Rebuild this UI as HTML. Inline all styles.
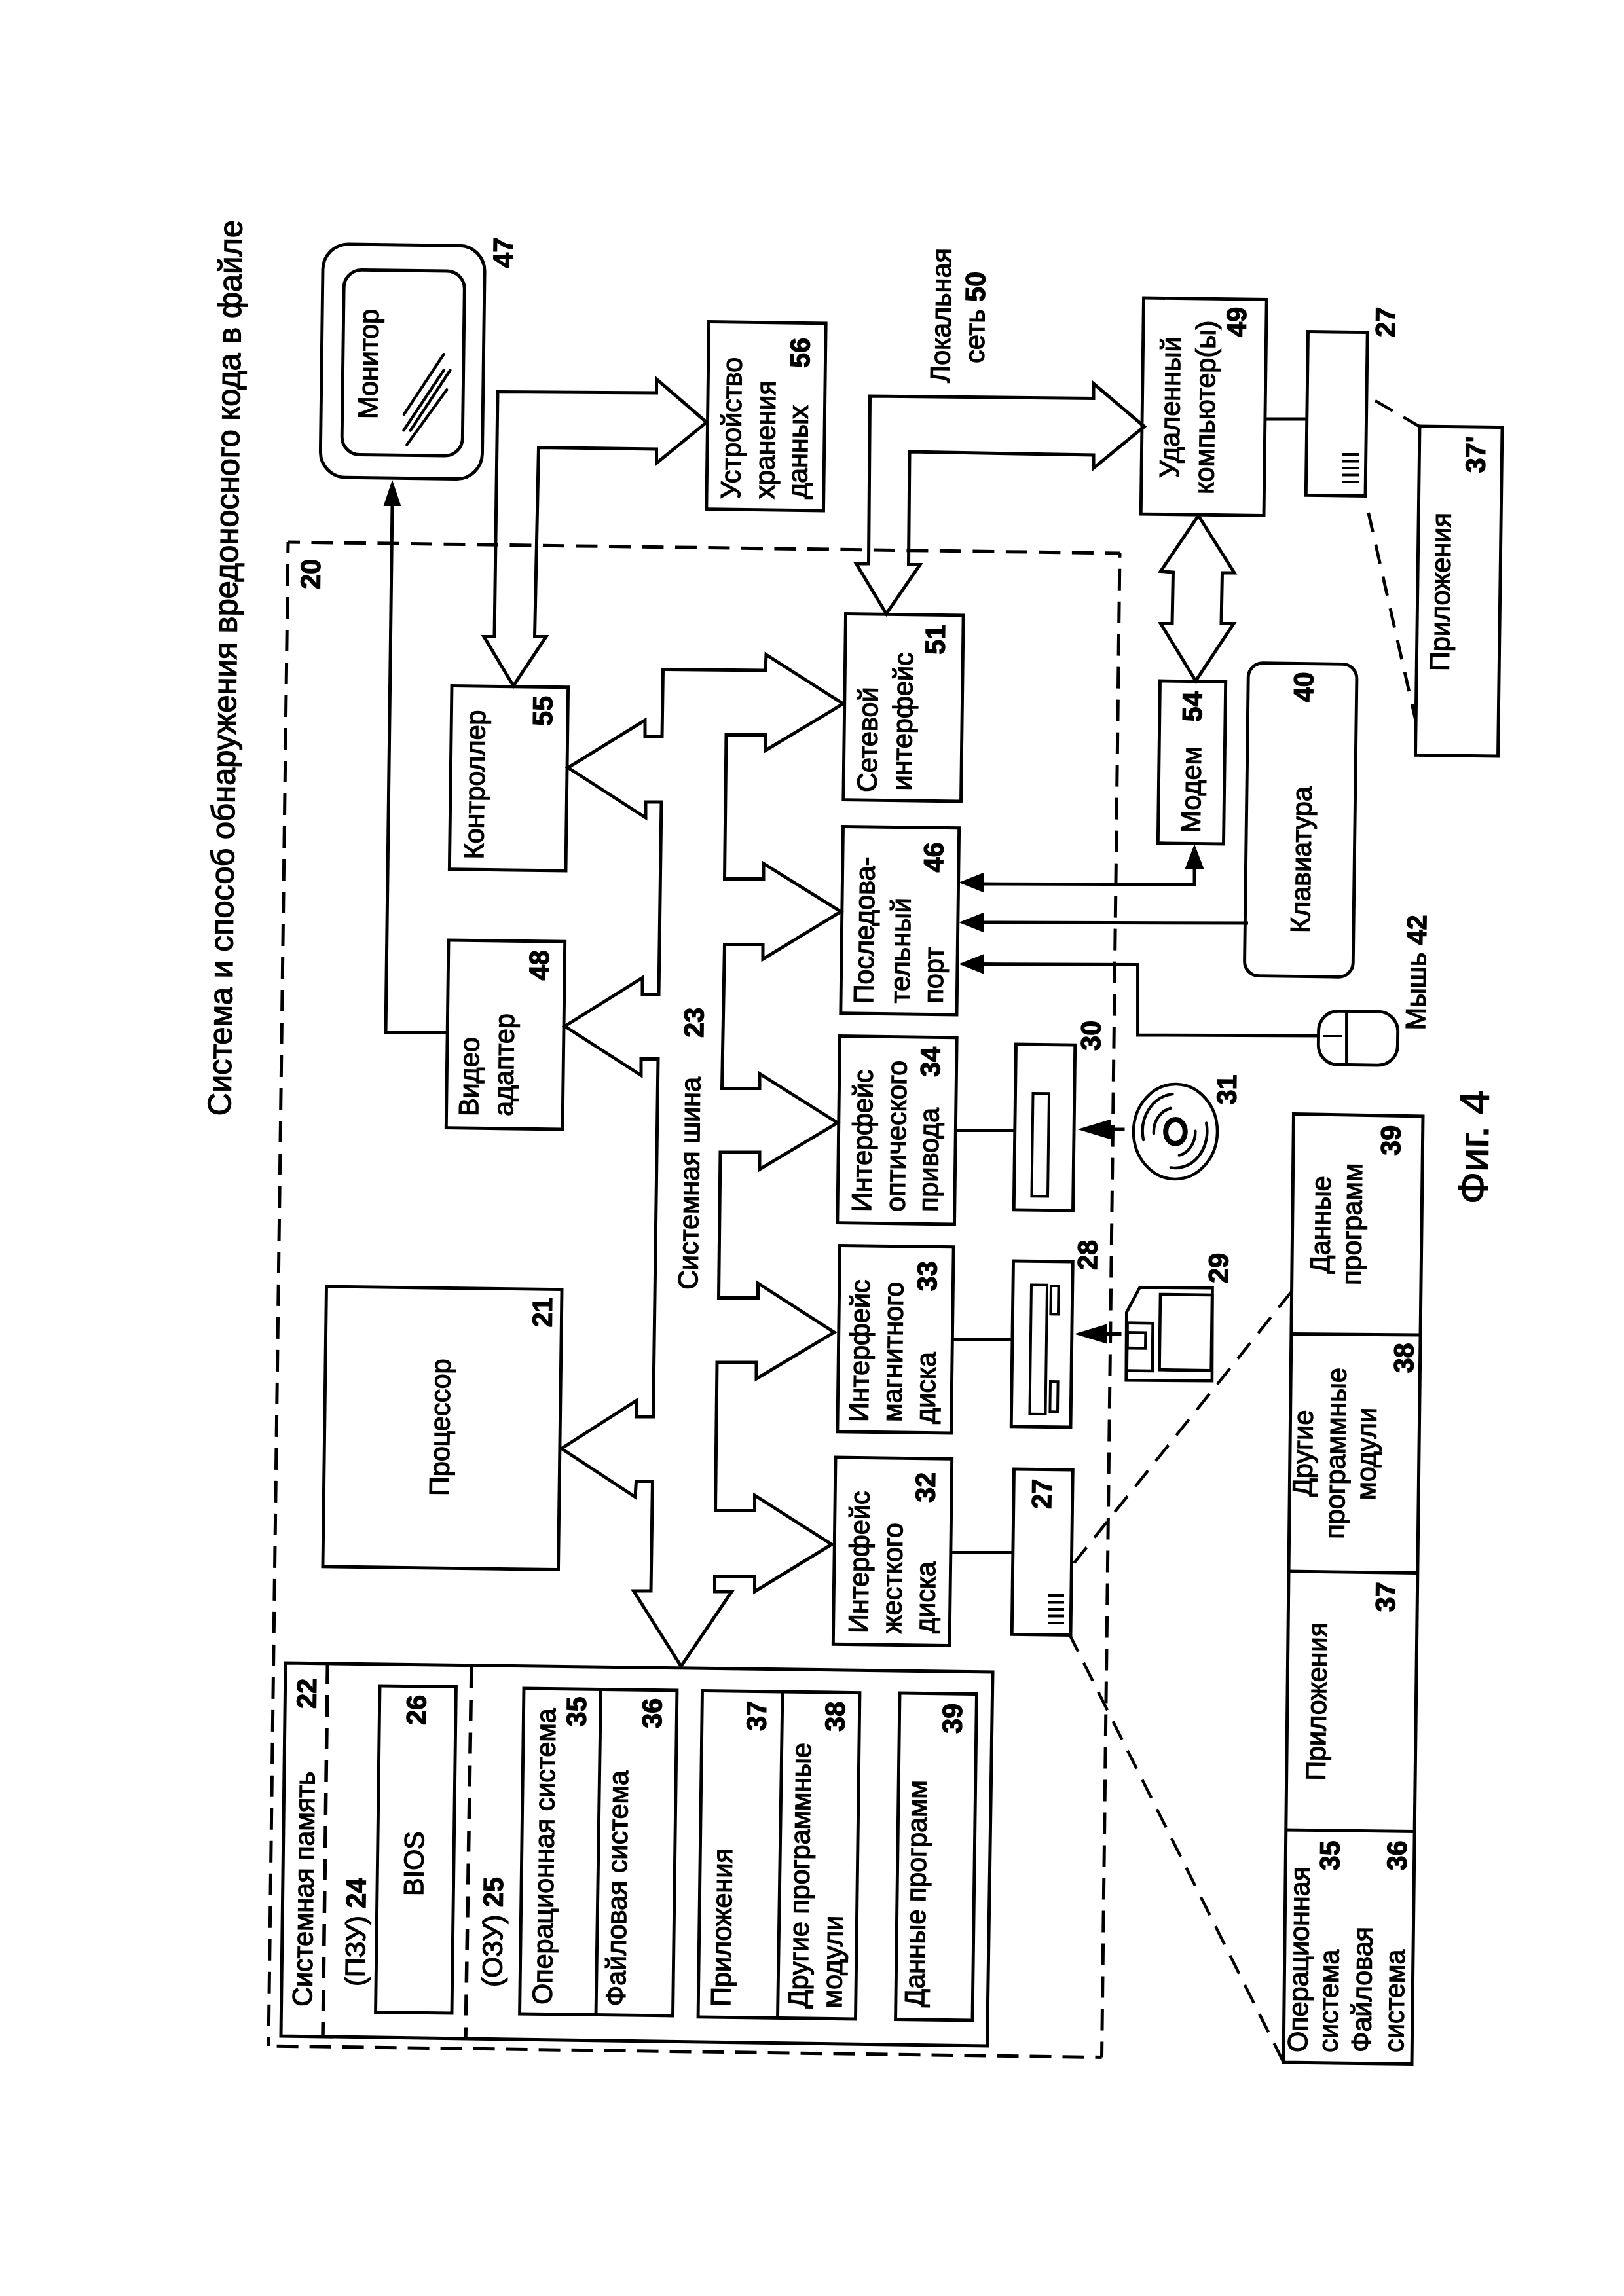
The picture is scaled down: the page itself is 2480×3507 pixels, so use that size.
<!DOCTYPE html>
<html><head><meta charset="utf-8"><style>
html,body{margin:0;padding:0;background:#fff;}
svg{display:block;will-change:transform;}
text{font-family:"Liberation Sans",sans-serif;fill:#000;stroke:#000;stroke-width:1.3;}
</style></head><body>
<svg width="2480" height="3507" viewBox="0 0 2480 3507">
<rect x="0" y="0" width="2480" height="3507" fill="#fff"/>
<g transform="rotate(0.74 1240 1753)" fill="none" stroke="#000" stroke-linejoin="miter" stroke-linecap="butt">
<text transform="translate(351.45 1715.97) rotate(-90) scale(1 1.02)" font-size="48.8">Система и способ обнаружения вредоносного кода в файле</text>
<rect x="475.73" y="382.26" width="247.12" height="356.34" rx="39" stroke-width="4.9"/>
<rect x="508.24" y="421.34" width="184.16" height="282.15" rx="27" stroke-width="4.9"/>
<text transform="translate(561.68 648.67) rotate(-90) scale(1 1.02)" font-size="41.3">Монитор</text>
<line x1="662" y1="548.56" x2="602.49" y2="641.04" stroke-width="4.4" stroke-linecap="round"/>
<line x1="662.31" y1="572.86" x2="602.4" y2="665.34" stroke-width="4.4" stroke-linecap="round"/>
<line x1="672.11" y1="572.74" x2="612.6" y2="665.61" stroke-width="4.4" stroke-linecap="round"/>
<line x1="667.39" y1="602.6" x2="607.39" y2="687.58" stroke-width="4.4" stroke-linecap="round"/>
<text transform="translate(765.18 415.02) rotate(-90) scale(1 1.02)" font-size="41.3" font-weight="bold">47</text>
<polyline points="681.78,1584.7 586.79,1585.92 586.36,778.36" stroke-width="5"/>
<polygon points="585.92,744.36 574.38,780.52 598.38,780.21" fill="#000" stroke="#000" stroke-width="2"/>
<rect x="1066.22" y="493.64" width="178.71" height="286.22" stroke-width="4.9"/>
<text transform="translate(1117.21 763.5) rotate(-90) scale(1 1.02)" font-size="41.3">Устройство</text>
<text transform="translate(1169.21 762.83) rotate(-90) scale(1 1.02)" font-size="41.3">хранения</text>
<text transform="translate(1219.2 762.19) rotate(-90) scale(1 1.02)" font-size="41.3">данных</text>
<text transform="translate(1220.62 562.15) rotate(-90) scale(1 1.02)" font-size="41.3" font-weight="bold">56</text>
<polygon points="774.93,1053.45 728.96,979.04 744.96,978.83 745.13,604.8 987.63,603.16 987.36,582.17 1064.7,647.17 989.02,710.65 988.74,689.16 808.72,688.98 806.46,978.03 823.95,977.81" stroke-width="5"/>
<rect x="680.93" y="1054.66" width="177.63" height="280.23" stroke-width="4.9"/>
<text transform="translate(732.35 1319.02) rotate(-90) scale(1 1.02)" font-size="41.3">Контроллер</text>
<text transform="translate(834.72 1114.18) rotate(-90) scale(1 1.02)" font-size="41.3" font-weight="bold">55</text>
<rect x="680.95" y="1443.19" width="177.72" height="286.73" stroke-width="4.9"/>
<text transform="translate(729.42 1711.59) rotate(-90) scale(1 1.02)" font-size="41.3">Видео</text>
<text transform="translate(782.42 1710.91) rotate(-90) scale(1 1.02)" font-size="41.3">адаптер</text>
<text transform="translate(834.23 1502.72) rotate(-90) scale(1 1.02)" font-size="41.3" font-weight="bold">48</text>
<rect x="501.3" y="1974.56" width="359.56" height="427.89" stroke-width="4.9"/>
<text transform="translate(691.92 2292.12) rotate(-90) scale(1 1.02)" font-size="41.3">Процессор</text>
<text transform="translate(846.08 2032.61) rotate(-90) scale(1 1.02)" font-size="41.3" font-weight="bold">21</text>
<polygon points="1003.08,1025.5 1159.59,1024.98 1160.28,1000.97 1278.74,1074.44 1160.67,1147.47 1160.36,1123.48 1100.87,1124.24 1101.21,1344.26 1160.7,1343.49 1160.4,1319.99 1279.34,1391.96 1161.29,1465.99 1161,1443.49 1102.5,1444.25 1101.34,1664.28 1158.84,1663.54 1158.55,1641.04 1278.51,1714.5 1160.43,1787.03 1160.1,1761.03 1100.1,1761.81 1100.48,1984.32 1160.47,1983.55 1160.18,1961.05 1277.64,2034.54 1159.57,2107.07 1159.24,2082.07 1099.25,2082.85 1099.67,2309.36 1159.67,2308.58 1159.37,2285.09 1277.82,2358.56 1161.26,2432.07 1160.96,2408.58 1099.97,2409.36 1100.27,2432.86 1126.27,2432.53 1050.25,2547.52 976.27,2433.46 1002.76,2433.12 1003.1,2265.6 978.1,2265.93 976.91,2289.94 863.47,2217.4 977.51,2142.42 976.83,2167.43 1002.83,2167.1 1003.27,1620.55 977.27,1620.88 977.59,1645.88 860.14,1572.39 977.67,1496.87 977.99,1521.86 1002.99,1521.54 1003.2,1228.01 979.2,1228.32 979.51,1252.32 860.03,1177.36 976.59,1103.35 976.91,1128.35 1002.91,1128.01" stroke-width="5"/>
<text transform="translate(1067.82 1972.24) rotate(-90) scale(1 1.02)" font-size="41.3">Системная шина</text>
<text transform="translate(1071.84 1587.16) rotate(-90) scale(1 1.02)" font-size="41.3" font-weight="bold">23</text>
<rect x="1280.96" y="936.9" width="179.69" height="284.2" stroke-width="4.9"/>
<text transform="translate(1331.48 1208.77) rotate(-90) scale(1 1.02)" font-size="41.3">Сетевой</text>
<text transform="translate(1384.44 1205.59) rotate(-90) scale(1 1.02)" font-size="41.3">интерфейс</text>
<text transform="translate(1432.76 997.45) rotate(-90) scale(1 1.02)" font-size="41.3" font-weight="bold">51</text>
<rect x="1281.16" y="1261.93" width="177.2" height="285.24" stroke-width="4.9"/>
<text transform="translate(1330.16 1532.32) rotate(-90) scale(1 1.02)" font-size="41.3">Последова-</text>
<text transform="translate(1385.64 1530.6) rotate(-90) scale(1 1.02)" font-size="41.3">тельный</text>
<text transform="translate(1436.64 1529.94) rotate(-90) scale(1 1.02)" font-size="41.3">порт</text>
<text transform="translate(1434.55 1329.95) rotate(-90) scale(1 1.02)" font-size="41.3" font-weight="bold">46</text>
<rect x="1280.29" y="1581.97" width="178.7" height="285.22" stroke-width="4.9"/>
<text transform="translate(1331.26 1849.83) rotate(-90) scale(1 1.02)" font-size="41.3">Интерфейс</text>
<text transform="translate(1382.75 1849.16) rotate(-90) scale(1 1.02)" font-size="41.3">оптического</text>
<text transform="translate(1432.75 1848.52) rotate(-90) scale(1 1.02)" font-size="41.3">привода</text>
<text transform="translate(1433.59 1642.49) rotate(-90) scale(1 1.02)" font-size="41.3" font-weight="bold">34</text>
<rect x="1284.43" y="1901.94" width="173.69" height="284.28" stroke-width="4.9"/>
<text transform="translate(1330.9 2170.86) rotate(-90) scale(1 1.02)" font-size="41.3">Интерфейс</text>
<text transform="translate(1381.9 2170.2) rotate(-90) scale(1 1.02)" font-size="41.3">магнитного</text>
<text transform="translate(1432.93 2172.54) rotate(-90) scale(1 1.02)" font-size="41.3">диска</text>
<text transform="translate(1432.82 1970.03) rotate(-90) scale(1 1.02)" font-size="41.3" font-weight="bold">33</text>
<rect x="1282.11" y="2225.5" width="177.7" height="285.23" stroke-width="4.9"/>
<text transform="translate(1334.58 2493.84) rotate(-90) scale(1 1.02)" font-size="41.3">Интерфейс</text>
<text transform="translate(1385.57 2493.18) rotate(-90) scale(1 1.02)" font-size="41.3">жесткого</text>
<text transform="translate(1436.57 2492.52) rotate(-90) scale(1 1.02)" font-size="41.3">диска</text>
<text transform="translate(1434.48 2292.53) rotate(-90) scale(1 1.02)" font-size="41.3" font-weight="bold">32</text>
<line x1="1459.64" y1="1723.66" x2="1550.63" y2="1722.49" stroke-width="4.9"/>
<rect x="1549.43" y="1590.99" width="90.27" height="252.86" stroke-width="4.9"/>
<rect x="1576.4" y="1665.65" width="24.53" height="157.2" stroke-width="4"/>
<text transform="translate(1678.05 1599.33) rotate(-90) scale(1 1.02)" font-size="41.3" font-weight="bold">30</text>
<line x1="1458.77" y1="2043.7" x2="1550.76" y2="2042.51" stroke-width="4.9"/>
<rect x="1549.71" y="1922.01" width="90.77" height="252.85" stroke-width="4.9"/>
<rect x="1577.68" y="1958.16" width="24.05" height="197.21" stroke-width="4"/>
<rect x="1607.69" y="1959.27" width="11.56" height="43.35" stroke-width="4"/>
<rect x="1608.58" y="2105.27" width="11.6" height="46.35" stroke-width="4"/>
<text transform="translate(1677.38 1934.37) rotate(-90) scale(1 1.02)" font-size="41.3" font-weight="bold">28</text>
<line x1="1460.47" y1="2368.7" x2="1555.96" y2="2367.47" stroke-width="4.9"/>
<rect x="1554.82" y="2239.97" width="89.77" height="252.36" stroke-width="4.9"/>
<line x1="1608.8" y1="2432.29" x2="1633.8" y2="2431.97" stroke-width="4"/>
<line x1="1608.94" y1="2442.79" x2="1633.94" y2="2442.47" stroke-width="4"/>
<line x1="1609.08" y1="2453.29" x2="1634.07" y2="2452.97" stroke-width="4"/>
<line x1="1609.21" y1="2463.79" x2="1634.21" y2="2463.47" stroke-width="4"/>
<line x1="1609.35" y1="2474.29" x2="1634.34" y2="2473.97" stroke-width="4"/>
<text transform="translate(1612.1 2300.24) rotate(-90) scale(1 1.02)" font-size="41.3" font-weight="bold">27</text>
<ellipse cx="1794.64" cy="1721.33" rx="64" ry="72.5" stroke-width="4.5"/>
<ellipse cx="1794.64" cy="1721.33" rx="14.8" ry="18.4" stroke-width="8"/>
<path d="M1789.3 1664 A50 57 0 0 0 1745.9 1734.56" stroke-width="4.4" stroke-linecap="round"/>
<path d="M1786.68 1685.73 A33 37 0 0 0 1761.57 1724.46" stroke-width="4.4" stroke-linecap="round"/>
<path d="M1841.66 1707.63 A48 56 0 0 1 1788.35 1776.32" stroke-width="4.4" stroke-linecap="round"/>
<path d="M1825.03 1720.24 A31 37 0 0 1 1800.9 1757.46" stroke-width="4.4" stroke-linecap="round"/>
<text transform="translate(1886.6 1679.14) rotate(-90) scale(1 1.02)" font-size="41.3" font-weight="bold">31</text>
<line x1="1689.6" y1="1719.19" x2="1717.1" y2="1718.84" stroke-width="5"/>
<polygon points="1648.6,1719.72 1694.42,1705.13 1694.78,1733.12" fill="#000" stroke="#000" stroke-width="2"/>
<line x1="1688.64" y1="2031.73" x2="1716.13" y2="2031.37" stroke-width="5"/>
<polygon points="1647.64,2032.26 1693.46,2017.67 1693.82,2045.66" fill="#000" stroke="#000" stroke-width="2"/>
<polygon points="1743.32,1960.02 1854.21,1959.18 1855.45,2101.38 1724.25,2101.88 1723.51,1998.48" stroke-width="4.6"/>
<rect x="1774.85" y="1970.11" width="79.1" height="115.29" stroke-width="4.6"/>
<rect x="1725.02" y="2014.46" width="39.04" height="72.8" stroke-width="4.6"/>
<rect x="1725.21" y="2029.16" width="28.01" height="23.74" stroke-width="4.6"/>
<text transform="translate(1877.62 1951.78) rotate(-90) scale(1 1.02)" font-size="41.3" font-weight="bold">29</text>
<line x1="428.12" y1="838.41" x2="1698.23" y2="839.01" stroke-width="5" stroke-dasharray="33 17.5" stroke-dashoffset="15"/>
<line x1="428.12" y1="838.41" x2="427.79" y2="3135.61" stroke-width="5" stroke-dasharray="33 17" stroke-dashoffset="16"/>
<line x1="1700.41" y1="3136.67" x2="1698.23" y2="839.01" stroke-width="5" stroke-dasharray="33 17" stroke-dashoffset="9"/>
<line x1="1700.41" y1="3136.67" x2="427.79" y2="3135.61" stroke-width="5" stroke-dasharray="33 17" stroke-dashoffset="23"/>
<text transform="translate(477.55 909.78) rotate(-90) scale(1 1.02)" font-size="41.3" font-weight="bold">20</text>
<polygon points="446.23,2550.32 1526.32,2550.37 1525.2,3121.43 446.59,3120.36" stroke-width="5"/>
<line x1="510.51" y1="2548.49" x2="510.6" y2="3120.53" stroke-width="5.5" stroke-dasharray="33 17"/>
<line x1="730.29" y1="2553.15" x2="728.62" y2="3120.72" stroke-width="5.5" stroke-dasharray="32 18"/>
<text transform="translate(493.01 3074.76) rotate(-90) scale(1 1.02)" font-size="41.3">Системная память</text>
<text transform="translate(493.63 2619.71) rotate(-90) scale(1 1.02)" font-size="41.3" font-weight="bold">22</text>
<text transform="translate(573.1 3042.72) rotate(-90) scale(1 1.02)" font-size="41.3">(ПЗУ) <tspan font-weight="bold">24</tspan></text>
<rect x="590.67" y="2583.46" width="116.45" height="498.54" stroke-width="4.9"/>
<text transform="translate(660.81 2903.58) rotate(-90) scale(1 1.02)" font-size="41.3">BIOS</text>
<text transform="translate(661.44 2642.55) rotate(-90) scale(1 1.02)" font-size="41.3" font-weight="bold">26</text>
<text transform="translate(782.6 3041.01) rotate(-90) scale(1 1.02)" font-size="41.3">(ОЗУ) <tspan font-weight="bold">25</tspan></text>
<rect x="810.7" y="2584.61" width="233.94" height="497.02" stroke-width="4.9"/>
<line x1="928.21" y1="2584.1" x2="927.15" y2="3083.15" stroke-width="4.9"/>
<text transform="translate(859.44 3067.02) rotate(-90) scale(1 1.02)" font-size="41.3">Операционная система</text>
<text transform="translate(905.95 2641.89) rotate(-90) scale(1 1.02)" font-size="41.3" font-weight="bold">35</text>
<text transform="translate(971.46 3068.08) rotate(-90) scale(1 1.02)" font-size="41.3">Файловая система</text>
<text transform="translate(1021.47 2642.9) rotate(-90) scale(1 1.02)" font-size="41.3" font-weight="bold">36</text>
<rect x="1083.23" y="2584.59" width="240.46" height="498.44" stroke-width="4.9"/>
<line x1="1205.72" y1="2583.51" x2="1204.68" y2="3083.57" stroke-width="4.9"/>
<text transform="translate(1131.96 3066.5) rotate(-90) scale(1 1.02)" font-size="41.3">Приложения</text>
<text transform="translate(1181.01 2644.84) rotate(-90) scale(1 1.02)" font-size="41.3" font-weight="bold">37</text>
<text transform="translate(1249.98 3067.48) rotate(-90) scale(1 1.02)" font-size="41.3">Другие программные</text>
<text transform="translate(1301.97 3066.81) rotate(-90) scale(1 1.02)" font-size="41.3">модули</text>
<text transform="translate(1301.02 2644.29) rotate(-90) scale(1 1.02)" font-size="41.3" font-weight="bold">38</text>
<rect x="1384.75" y="2584.2" width="117.45" height="498.52" stroke-width="4.9"/>
<text transform="translate(1427.94 3063.68) rotate(-90) scale(1 1.02)" font-size="41.3">Данные программ</text>
<text transform="translate(1480.04 2644.97) rotate(-90) scale(1 1.02)" font-size="41.3" font-weight="bold">39</text>
<polygon points="1342.96,936.1 1295.97,860.2 1314.97,859.96 1313.67,603.95 1655.18,603.04 1654.89,580.54 1733.23,645.04 1656.56,709.53 1656.3,689.53 1375.26,688.16 1375.99,860.67 1393.49,860.44" stroke-width="5"/>
<text transform="translate(1434.9 582.39) rotate(-90) scale(1 1.02)" font-size="41.3">Локальная</text>
<text transform="translate(1487.01 551.71) rotate(-90) scale(1 1.02)" font-size="41.3">сеть <tspan font-weight="bold">50</tspan></text>
<rect x="1729.69" y="448.57" width="187.78" height="330.1" stroke-width="4.9"/>
<text transform="translate(1786.74 722.85) rotate(-90) scale(1 1.02)" font-size="41.3">Удаленный</text>
<text transform="translate(1840.06 747.17) rotate(-90) scale(1 1.02)" font-size="41.3">компьютер(ы)</text>
<text transform="translate(1886.46 506.55) rotate(-90) scale(1 1.02)" font-size="41.3" font-weight="bold">49</text>
<line x1="1917.57" y1="631.16" x2="1982.56" y2="630.32" stroke-width="4.9"/>
<rect x="1981.34" y="496.82" width="90.73" height="249.85" stroke-width="4.9"/>
<line x1="2036.26" y1="683.63" x2="2061.25" y2="683.3" stroke-width="4"/>
<line x1="2036.39" y1="694.13" x2="2061.39" y2="693.8" stroke-width="4"/>
<line x1="2036.53" y1="704.63" x2="2061.52" y2="704.3" stroke-width="4"/>
<line x1="2036.66" y1="715.12" x2="2061.66" y2="714.8" stroke-width="4"/>
<line x1="2036.8" y1="725.62" x2="2061.8" y2="725.3" stroke-width="4"/>
<text transform="translate(2113.94 503.61) rotate(-90) scale(1 1.02)" font-size="41.3" font-weight="bold">27</text>
<line x1="2085.19" y1="600.99" x2="2152.69" y2="639.12" stroke-width="4.5" stroke-dasharray="31 19"/>
<line x1="2077.1" y1="772.11" x2="2153.5" y2="1089.15" stroke-width="4.8" stroke-dasharray="30 20"/>
<rect x="2153.69" y="639.11" width="126" height="502.41" stroke-width="4.9"/>
<text transform="translate(2203.02 1012.5) rotate(-90) scale(1 1.02)" font-size="41.3">Приложения</text>
<text transform="translate(2254.11 709.32) rotate(-90) scale(1 1.02)" font-size="41.3" font-weight="bold">37'</text>
<polygon points="1817.48,779.96 1873.61,866.74 1855.11,866.98 1854.61,944.49 1873.61,944.25 1816.74,1032.49 1762.12,945.69 1779.62,945.46 1780.1,866.95 1761.08,865.7" stroke-width="5"/>
<rect x="1762.25" y="1033.2" width="100.21" height="247.73" stroke-width="4.9"/>
<text transform="translate(1826.24 1264.89) rotate(-90) scale(1 1.02)" font-size="41.3">Модем</text>
<text transform="translate(1826.55 1094.87) rotate(-90) scale(1 1.02)" font-size="41.3" font-weight="bold">54</text>
<rect x="1896.88" y="1003.95" width="165.69" height="477.9" rx="22" stroke-width="4.9"/>
<text transform="translate(1995.7 1415.21) rotate(-90) scale(1 1.02)" font-size="41.3">Клавиатура</text>
<text transform="translate(1996.15 1062.68) rotate(-90) scale(1 1.02)" font-size="41.3" font-weight="bold">40</text>
<polyline points="1494.77,1346.68 1818.76,1343.49 1818.38,1314.49" stroke-width="4.9"/>
<polygon points="1461.75,1345.1 1496.57,1330.65 1496.93,1358.65" fill="#000" stroke="#000" stroke-width="2"/>
<polygon points="1818,1284.5 1805.44,1318.66 1831.44,1318.33" fill="#000" stroke="#000" stroke-width="2"/>
<line x1="1495.54" y1="1405.67" x2="1901.51" y2="1401.43" stroke-width="4.9"/>
<polygon points="1462.54,1406.1 1497.35,1391.65 1497.72,1419.64" fill="#000" stroke="#000" stroke-width="2"/>
<polyline points="1496.36,1469.17 1733.85,1467.1 1735.24,1574.59 2012.73,1572.01" stroke-width="4.9"/>
<polygon points="1463.36,1469.59 1498.17,1455.14 1498.54,1483.14" fill="#000" stroke="#000" stroke-width="2"/>
<rect x="2011.24" y="1534.02" width="121.07" height="81.94" rx="30" stroke-width="4.9"/>
<line x1="2053.75" y1="1534.47" x2="2054.8" y2="1616.47" stroke-width="4.9"/>
<line x1="2017.73" y1="1572.44" x2="2047.73" y2="1572.05" stroke-width="3"/>
<text transform="translate(2173.6 1561.43) rotate(-90) scale(1 1.02)" font-size="41.3">Мышь <tspan font-weight="bold">42</tspan></text>
<text transform="translate(2272.53 1826.17) rotate(-90) scale(1 0.98)" font-size="65">Фиг. 4</text>
<polygon points="1974.77,1692.01 2172.3,1692.95 2174,3140.55 1977.98,3140.58" stroke-width="5"/>
<line x1="1973.61" y1="2028.05" x2="2172.62" y2="2026.98" stroke-width="4.9"/>
<line x1="1974.3" y1="2390.57" x2="2172.31" y2="2390.51" stroke-width="4.9"/>
<line x1="1975.4" y1="2785.59" x2="2173.41" y2="2785.53" stroke-width="4.9"/>
<text transform="translate(2032.46 1860.77) rotate(-90) scale(1 1.02)" font-size="41.3" text-anchor="middle">Данные</text>
<text transform="translate(2080.44 1859.15) rotate(-90) scale(1 1.02)" font-size="41.3" text-anchor="middle">программ</text>
<text transform="translate(2138.08 1753.4) rotate(-90) scale(1 1.02)" font-size="41.3" font-weight="bold">39</text>
<text transform="translate(2009.97 2210.09) rotate(-90) scale(1 1.02)" font-size="41.3" text-anchor="middle">Другие</text>
<text transform="translate(2059.96 2209.45) rotate(-90) scale(1 1.02)" font-size="41.3" text-anchor="middle">программные</text>
<text transform="translate(2106.97 2209.84) rotate(-90) scale(1 1.02)" font-size="41.3" text-anchor="middle">модули</text>
<text transform="translate(2162.37 2085.62) rotate(-90) scale(1 1.02)" font-size="41.3" font-weight="bold">38</text>
<text transform="translate(2035.86 2588.79) rotate(-90) scale(1 1.02)" font-size="41.3" text-anchor="middle">Приложения</text>
<text transform="translate(2139.09 2450.95) rotate(-90) scale(1 1.02)" font-size="41.3" font-weight="bold">37</text>
<text transform="translate(2013.79 3125.12) rotate(-90) scale(1 1.02)" font-size="41.3">Операционная</text>
<text transform="translate(2060.28 3124.52) rotate(-90) scale(1 1.02)" font-size="41.3">система</text>
<text transform="translate(2110.78 3123.87) rotate(-90) scale(1 1.02)" font-size="41.3">Файловая</text>
<text transform="translate(2160.77 3123.22) rotate(-90) scale(1 1.02)" font-size="41.3">система</text>
<text transform="translate(2059.2 2847.01) rotate(-90) scale(1 1.02)" font-size="41.3" font-weight="bold">35</text>
<text transform="translate(2161.69 2845.69) rotate(-90) scale(1 1.02)" font-size="41.3" font-weight="bold">36</text>
<line x1="1648.16" y1="2382.28" x2="1975.27" y2="1963.02" stroke-width="4.5" stroke-dasharray="31 19"/>
<line x1="1642.05" y1="2489.87" x2="1977.98" y2="3140.58" stroke-width="4.5" stroke-dasharray="31 19"/>
</g>
</svg>
</body></html>
